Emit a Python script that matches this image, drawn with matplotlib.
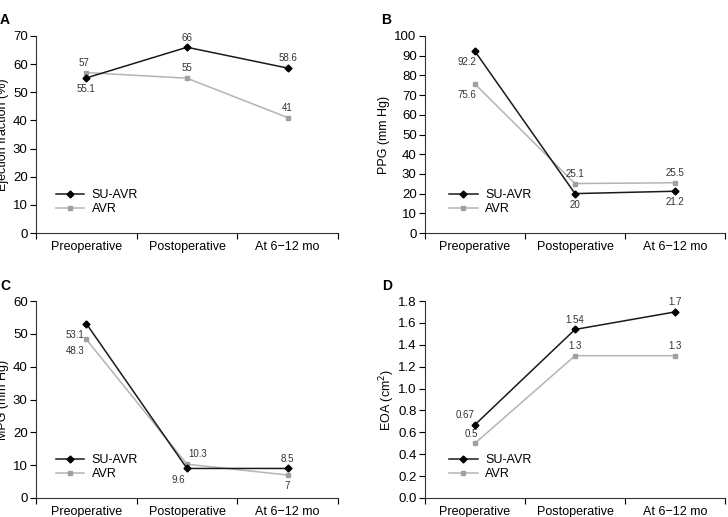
import matplotlib
matplotlib.use('Agg')
import matplotlib.pyplot as plt
import numpy as np

plt.rcParams['font.family'] = ['Liberation Sans', 'DejaVu Sans']

categories = ['Preoperative', 'Postoperative', 'At 6\u221212 mo']

# panel A - ejection fraction
ef_su = [55.1, 66, 58.6]
ef_avr = [57, 55, 41]
# panel B - PPG
ppg_su = [92.2, 20, 21.2]
ppg_avr = [75.6, 25.1, 25.5]
# panel C - MPG
mpg_su = [53.1, 9.0, 9.0]
mpg_su_lbl = ['53.1', '9.6', '8.5']
mpg_avr = [48.3, 10.3, 7]
# panel D - EOA
eoa_su = [0.67, 1.54, 1.7]
eoa_avr = [0.5, 1.3, 1.3]

W, H = 728, 517
fig = plt.figure(figsize=(W / 100, H / 100), dpi=100)


def box(l, t, r, b):
    return [l / W, 1 - b / H, (r - l) / W, (b - t) / H]


def panel(rect, letter, lpos, su, avr, ymax, ystep, ylabel, su_off, avr_off,
          su_lbl=None, avr_lbl=None, fmt='%d', leg=(0.06, 0.25), lpad=3):
    ax = fig.add_axes(box(*rect))
    x = np.arange(3)
    ax.plot(x, su, '-', color='#1a1a1a', lw=1.1, marker='D', ms=3.5,
            mfc='#000000', mec='#000000', label='SU-AVR', zorder=3)
    ax.plot(x, avr, '-', color='#b4b4b4', lw=1.1, marker='s', ms=3.5,
            mfc='#a0a0a0', mec='#a0a0a0', label='AVR', zorder=2)
    if su_lbl is None:
        su_lbl = [('%g' % v) for v in su]
    if avr_lbl is None:
        avr_lbl = [('%g' % v) for v in avr]
    for i in range(3):
        ax.annotate(su_lbl[i], (x[i], su[i]), xytext=su_off[i], textcoords='offset points',
                    ha='center', va='center', fontsize=7, color='#333333')
        ax.annotate(avr_lbl[i], (x[i], avr[i]), xytext=avr_off[i], textcoords='offset points',
                    ha='center', va='center', fontsize=7, color='#333333')
    ax.set_xlim(-0.5, 2.5)
    ax.set_ylim(0, ymax)
    ax.set_yticks(np.arange(0, ymax + ystep / 2, ystep))
    ax.yaxis.set_major_formatter(matplotlib.ticker.FormatStrFormatter(fmt))
    ax.set_xticks([-0.5, 0.5, 1.5, 2.5])
    ax.set_xticklabels([])
    ax.set_xticks(x, minor=True)
    ax.set_xticklabels(categories, minor=True)
    ax.tick_params(axis='x', which='minor', length=0, pad=5.5, labelsize=9)
    ax.tick_params(axis='x', which='major', length=4, width=0.8, direction='out')
    ax.tick_params(axis='y', length=4, width=0.8, labelsize=9.5, pad=2)
    for s in ['top', 'right']:
        ax.spines[s].set_visible(False)
    for s in ['left', 'bottom']:
        ax.spines[s].set_color('#333333')
        ax.spines[s].set_linewidth(0.8)
    ax.set_ylabel(ylabel, fontsize=9, labelpad=lpad)
    ax.legend(loc='lower left', bbox_to_anchor=leg, frameon=False, fontsize=9,
              handlelength=2.3, labelspacing=0.15, borderpad=0, borderaxespad=0,
              handletextpad=0.6)
    fig.text(lpos[0] / W, 1 - lpos[1] / H, letter, fontsize=10, fontweight='bold',
             ha='left', va='center')
    return ax


panel((36, 36, 338, 233), 'A', (0, 20), ef_su, ef_avr, 70, 10, 'Ejection fraction (%)',
      [(0, -8), (0, 7), (0, 7)], [(-2, 7), (0, 7), (0, 7)], leg=(0.065, 0.09))
panel((425, 36, 725, 233), 'B', (381, 20), ppg_su, ppg_avr, 100, 10, 'PPG (mm Hg)',
      [(-6, -8), (0, -8), (0, -8)], [(-6, -8), (0, 7), (0, 7)], leg=(0.08, 0.09))
panel((36, 301, 338, 498), 'C', (0, 286), mpg_su, mpg_avr, 60, 10, 'MPG (mm Hg)',
      [(-8, -8), (-6, -8), (0, 7)], [(-8, -8), (8, 7), (0, -8)],
      su_lbl=mpg_su_lbl, leg=(0.065, 0.09))
panel((425, 301, 725, 498), 'D', (382, 286), eoa_su, eoa_avr, 1.8, 0.2, 'EOA (cm$^2$)',
      [(-7, 7), (0, 7), (0, 7)], [(-3, 7), (0, 7), (0, 7)], fmt='%.1f', leg=(0.08, 0.09),
      lpad=1)

fig.savefig('out.png', dpi=100)
